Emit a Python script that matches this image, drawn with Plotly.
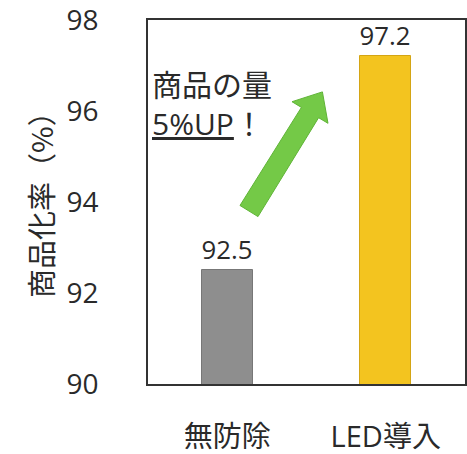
import plotly.graph_objects as go

categories = ["無防除", "LED導入"]
values = [92.5, 97.2]
value_labels = ["92.5", "97.2"]
bar_colors = ["#8e8e8e", "#f3c41f"]
bar_lines = ["#777777", "#d4a514"]
y_ticks = [90, 92, 94, 96, 98]
y_title = "商品化率（%）"
note_text = "商品の量<br><u>5%UP</u>！"

W, H = 467, 454
ML, MR, MT, MB = 148, 2, 20, 70
PW, PH = W - ML - MR, H - MT - MB

def px(x, y):
    return (x - ML) / PW, (H - MB - y) / PH

FONT = "Open Sans, Noto Sans CJK JP, sans-serif"
CJK = "Noto Sans CJK JP, sans-serif"
TXT = "#2a2a2a"

fig = go.Figure()
fig.add_trace(go.Bar(
    x=categories, y=values, width=0.32,
    marker=dict(color=bar_colors, line=dict(color=bar_lines, width=1)),
    text=value_labels, textposition="outside", cliponaxis=False,
    textfont=dict(size=30, color=TXT, family=FONT),
))

# arrow polygon (decoration)
pts = [(240.0, 205.5), (301.4, 107.4), (292.0, 101.7), (322.4, 91.9),
       (328.0, 123.3), (318.6, 117.7), (258.0, 216.6)]
pp = [px(a, b) for a, b in pts]
path = "M " + " L ".join(f"{a:.4f},{b:.4f}" for a, b in pp) + " Z"
fig.add_shape(type="path", path=path, xref="paper", yref="paper",
              fillcolor="#74c947", line=dict(color="#5fb436", width=1))

nx, ny = px(150, 62)
fig.add_annotation(x=nx, y=ny, xref="paper", yref="paper", xanchor="left",
                   yanchor="top", align="left", showarrow=False, text=note_text,
                   font=dict(size=30, color=TXT, family=FONT))

tx, ty = px(40, 198)
fig.add_annotation(x=tx, y=ty, xref="paper", yref="paper", xanchor="center",
                   yanchor="middle", showarrow=False, text=y_title, textangle=-90,
                   font=dict(size=29, color=TXT, family=CJK))

fig.update_layout(
    width=W, height=H, margin=dict(l=ML, r=MR, t=MT, b=MB),
    paper_bgcolor="white", plot_bgcolor="white", showlegend=False,
    font=dict(family=FONT, color=TXT),
    bargap=0,
)
fig.update_xaxes(range=[-0.5, 1.5], showline=True, mirror=True, linecolor="#333333",
                 linewidth=1.5, showgrid=False, ticks="", ticklabelstandoff=26,
                 automargin=False,
                 tickfont=dict(size=29, color=TXT, family=FONT))
fig.update_yaxes(range=[89.999, 98.001], tickvals=y_ticks, showline=True, mirror=True,
                 linecolor="#333333", linewidth=1.5, showgrid=False, zeroline=False,
                 ticks="", ticklabelstandoff=42, automargin=False,
                 ticklabeloverflow="allow",
                 tickfont=dict(size=28, color=TXT, family=FONT))

fig.write_html("out.html", config={"displayModeBar": False},
               post_script="document.body.style.margin='0';document.body.style.padding='0';")
